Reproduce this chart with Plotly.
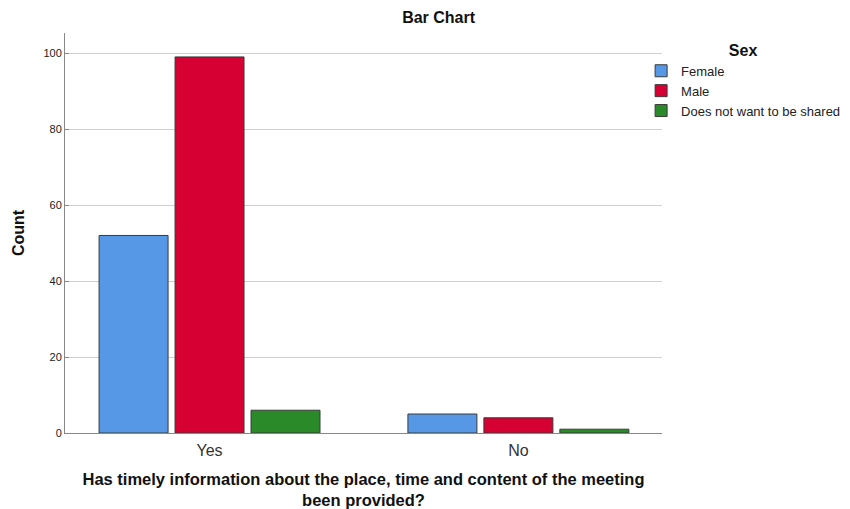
import plotly.graph_objects as go

categories = ["Yes", "No"]
series_names = ["Female", "Male", "Does not want to be shared"]
female = [52, 5]
male = [99, 4]
not_shared = [6, 1]
colors = ["#5798e6", "#d70032", "#2a8a2a"]
y_ticks = [0, 20, 40, 60, 80, 100]

fig = go.Figure()
for name, vals, col in zip(series_names, [female, male, not_shared], colors):
    fig.add_trace(go.Bar(
        x=categories, y=vals, name=name,
        marker=dict(color=col, line=dict(color="#3a3a3a", width=1)),
    ))

fig.update_layout(
    width=850, height=509,
    barmode="group", bargap=0.262, bargroupgap=0.092,
    plot_bgcolor="white", paper_bgcolor="white",
    margin=dict(l=65, r=188, t=33, b=76, autoexpand=False),
    font=dict(family="Liberation Sans, Arial, sans-serif", color="#222222"),
    title=dict(text="<b>Bar Chart</b>", x=0.516, xanchor="center", xref="container",
               y=0.965, yanchor="middle",
               font=dict(size=16, color="#111111")),
    legend=dict(
        title=dict(text="<b>Sex</b>", side="top center", font=dict(size=16, color="#111111")),
        x=0.965, xanchor="left", y=0.995, yanchor="top",
        font=dict(size=13, color="#222222"),
        bgcolor="rgba(0,0,0,0)", tracegroupgap=0, itemwidth=30,
    ),
    xaxis=dict(
        range=[-0.468, 1.465], showline=True, linecolor="#888888", linewidth=1,
        ticks="", tickfont=dict(size=16, color="#333333"), ticklabelstandoff=3,
        automargin=False,
        title=dict(text="<b>Has timely information about the place, time and content of the meeting<br>been provided?</b>",
                   font=dict(size=16.5, color="#111111"), standoff=21),
    ),
    yaxis=dict(
        range=[0, 105.3], tickvals=y_ticks, showgrid=True, gridcolor="#cfcfcf", gridwidth=1,
        showline=True, linecolor="#888888", linewidth=1, zeroline=False,
        ticks="inside", ticklen=4, tickcolor="#888888",
        tickfont=dict(size=11, color="#222222"), automargin=False,
        title=dict(text="<b>Count</b>", font=dict(size=16, color="#111111"), standoff=14),
    ),
)

fig.write_html("out.html", config={"displayModeBar": False},
               post_script="document.body.style.margin='0';")
